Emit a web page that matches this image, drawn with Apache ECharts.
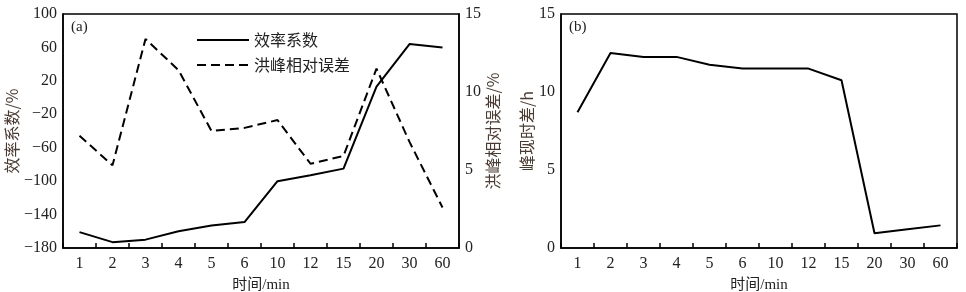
<!DOCTYPE html>
<html>
<head>
<meta charset="utf-8">
<script src="https://cdn.jsdelivr.net/npm/echarts@6/dist/echarts.min.js"></script>
<style>
html, body { margin: 0; padding: 0; background: #fff; }
#chart { width: 966px; height: 292px; }
</style>
</head>
<body>
<div id="chart"></div>
<script>
var categories = ['1', '2', '3', '4', '5', '6', '10', '12', '15', '20', '30', '60'];
// (a) 效率系数 / 洪峰相对误差
var efficiency = [-161, -173, -170, -160, -153, -149, -100, -93, -85, 13, 64, 60];
var peakError = [7.2, 5.3, 13.4, 11.4, 7.5, 7.7, 8.2, 5.4, 5.9, 11.5, 6.8, 2.6];
// (b) 峰现时差
var peakLag = [8.7, 12.5, 12.25, 12.25, 11.75, 11.5, 11.5, 11.5, 10.75, 0.95, 1.2, 1.45];

var serif = '"Liberation Serif", "Noto Sans CJK SC", serif';
var cjk = '"Noto Sans CJK SC", sans-serif';
var nameColor = '#4a3a30';

function xAxis(idx) {
    return {
        type: 'category',
        gridIndex: idx,
        data: categories,
        boundaryGap: true,
        name: '时间/min',
        nameLocation: 'middle',
        nameGap: 30,
        nameTextStyle: { color: '#222', fontSize: 15, fontFamily: serif },
        axisLine: { onZero: false, lineStyle: { color: '#000', width: 1.5 } },
        axisTick: { show: true, inside: true, length: 5, lineStyle: { color: '#000', width: 1.5 } },
        axisLabel: { color: '#222', fontSize: 16, fontFamily: serif, margin: 8 },
        splitLine: { show: false }
    };
}

function yAxis(idx, opts) {
    return Object.assign({
        type: 'value',
        gridIndex: idx,
        nameLocation: 'middle',
        nameTextStyle: { color: nameColor, fontSize: 16, fontFamily: cjk },
        axisLine: { show: true, onZero: false, lineStyle: { color: '#000', width: 1.5 } },
        axisTick: { show: false },
        axisLabel: {
            color: '#222', fontSize: 16, fontFamily: serif, margin: 6,
            formatter: function(v) { return String(v).replace('-', '\u2212'); }
        },
        splitLine: { show: false }
    }, opts);
}

var chart = echarts.init(document.getElementById('chart'));
var option = {
    backgroundColor: '#fff',
    animation: false,
    grid: [
        { left: 63, top: 14, width: 396, height: 234, show: true, borderColor: '#000', borderWidth: 1.5, outerBoundsMode: 'none' },
        { left: 561, top: 14, width: 396, height: 234, show: true, borderColor: '#000', borderWidth: 1.5, outerBoundsMode: 'none' }
    ],
    title: [
        { text: '(a)', left: 66, top: 15, textStyle: { fontSize: 15, fontWeight: 'normal', color: '#222', fontFamily: serif } },
        { text: '(b)', left: 564, top: 15, textStyle: { fontSize: 15, fontWeight: 'normal', color: '#222', fontFamily: serif } }
    ],
    legend: {
        orient: 'vertical',
        left: 191,
        top: 27,
        itemWidth: 52,
        itemHeight: 16,
        itemGap: 9,
        itemStyle: { opacity: 0 },
        textStyle: { fontSize: 16, color: '#222', fontFamily: cjk },
        data: ['效率系数', '洪峰相对误差']
    },
    xAxis: [xAxis(0), xAxis(1)],
    yAxis: [
        yAxis(0, { min: -180, max: 100, interval: 40, name: '效率系数/%', nameGap: 43 }),
        yAxis(0, { min: 0, max: 15, interval: 5, position: 'right', name: '洪峰相对误差/%', nameGap: 26 }),
        yAxis(1, { min: 0, max: 15, interval: 5, name: '峰现时差/h', nameGap: 20 })
    ],
    series: [
        {
            name: '效率系数', type: 'line', xAxisIndex: 0, yAxisIndex: 0,
            data: efficiency, symbol: 'none',
            lineStyle: { color: '#000', width: 2 }, itemStyle: { color: '#000' }
        },
        {
            name: '洪峰相对误差', type: 'line', xAxisIndex: 0, yAxisIndex: 1,
            data: peakError, symbol: 'none',
            lineStyle: { color: '#000', width: 2, type: [9, 5] }, itemStyle: { color: '#000' }
        },
        {
            name: '峰现时差', type: 'line', xAxisIndex: 1, yAxisIndex: 2,
            data: peakLag, symbol: 'none',
            lineStyle: { color: '#000', width: 2 }, itemStyle: { color: '#000' }
        }
    ]
};
chart.setOption(option);
</script>
</body>
</html>
